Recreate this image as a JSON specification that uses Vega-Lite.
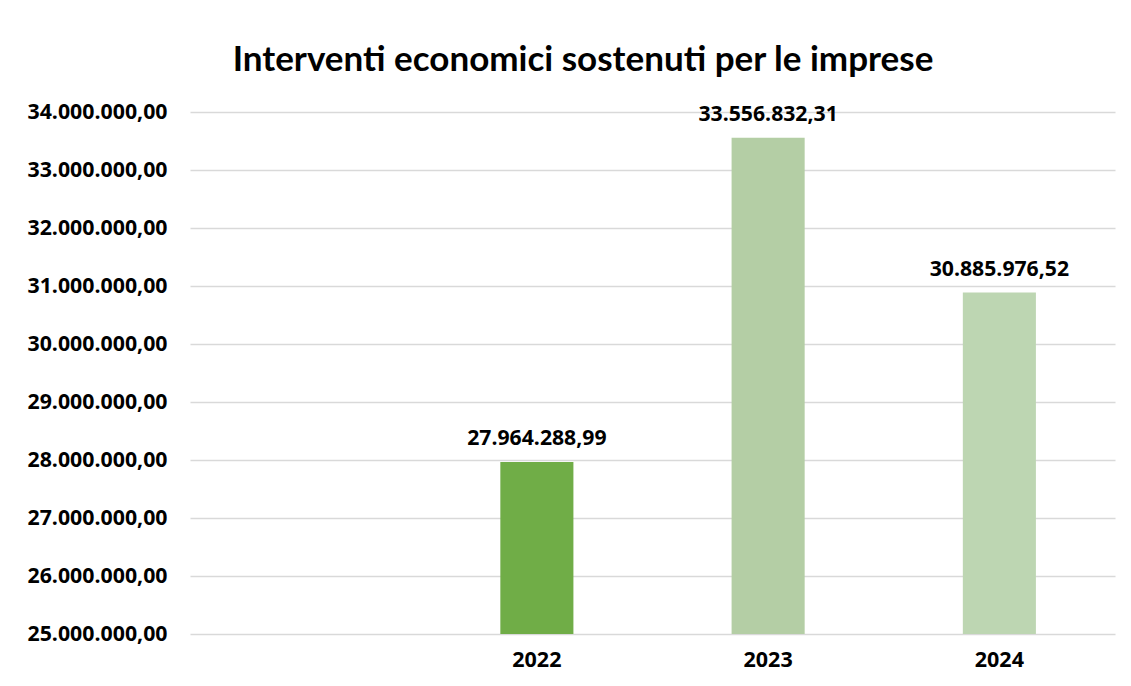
{
  "$schema": "https://vega.github.io/schema/vega-lite/v6.json",
  "autosize": "none",
  "width": 925,
  "height": 522,
  "padding": {"left": 190, "top": 112, "right": 16, "bottom": 52},
  "background": "white",
  "config": {
    "locale": {"number": {"decimal": ",", "thousands": ".", "grouping": [3], "currency": ["€", ""]}},
    "view": {"stroke": null},
    "font": "Open Sans"
  },
  "title": {
    "text": "Interventi economici sostenuti per le imprese",
    "font": "Lato",
    "fontSize": 35,
    "fontWeight": "bold",
    "color": "#000000",
    "anchor": "middle",
    "frame": "bounds",
    "dx": 12,
    "offset": 23
  },
  "data": {
    "values": [
      {"anno": "2022", "importo": 27964288.99},
      {"anno": "2023", "importo": 33556832.31},
      {"anno": "2024", "importo": 30885976.52}
    ]
  },
  "encoding": {
    "x": {
      "field": "anno",
      "type": "nominal",
      "scale": {"domain": [" ", "2022", "2023", "2024"], "paddingInner": 0.684, "paddingOuter": 0.342},
      "axis": {
        "title": null,
        "labelAngle": 0,
        "ticks": false,
        "domain": false,
        "labelFont": "Open Sans",
        "labelFontSize": 21.5,
        "labelFontWeight": "bold",
        "labelColor": "#000000",
        "labelPadding": 15
      }
    },
    "y": {
      "field": "importo",
      "type": "quantitative",
      "scale": {"domain": [25000000, 34000000], "zero": false, "nice": false},
      "axis": {
        "title": null,
        "values": [25000000, 26000000, 27000000, 28000000, 29000000, 30000000, 31000000, 32000000, 33000000, 34000000],
        "format": ",.2f",
        "ticks": false,
        "domain": false,
        "grid": true,
        "gridColor": "#D9D9D9",
        "gridWidth": 1.5,
        "labelFont": "Open Sans",
        "labelFontSize": 21.3,
        "labelFontWeight": "bold",
        "labelColor": "#000000",
        "labelPadding": 23
      }
    }
  },
  "layer": [
    {
      "mark": {"type": "bar", "clip": true},
      "encoding": {
        "color": {
          "field": "anno",
          "type": "nominal",
          "scale": {"domain": ["2022", "2023", "2024"], "range": ["#70AD47", "#B4CEA5", "#BDD6B2"]},
          "legend": null
        }
      }
    },
    {
      "mark": {"type": "text", "dy": -23, "font": "Open Sans", "fontSize": 21.2, "fontWeight": "bold", "color": "#000000"},
      "encoding": {
        "text": {"field": "importo", "type": "quantitative", "format": ",.2f"}
      }
    }
  ]
}
